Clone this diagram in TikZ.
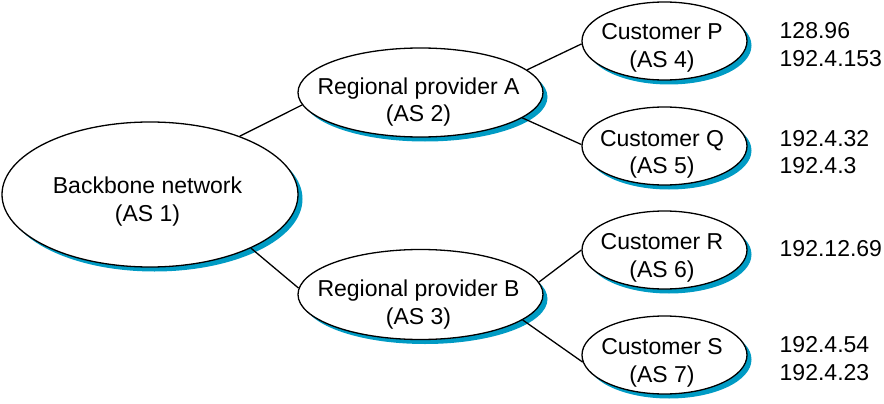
\documentclass[tikz,border=0pt]{standalone}
\usepackage{fontspec}
\setmainfont{Liberation Sans}
\usetikzlibrary{shapes.geometric,shadows}
\definecolor{shadowblue}{RGB}{0,155,196}
\tikzset{
  asnode/.style={ellipse, draw=black, line width=1.3pt, fill=white, inner sep=0pt,
    drop shadow={shadow xshift=4.5pt, shadow yshift=-4.5pt, fill=shadowblue, opacity=1}},
  lbl/.style={align=center, inner sep=0pt, font=\fontsize{23}{27.5}\selectfont},
  addr/.style={align=left, anchor=west, inner sep=0pt, font=\fontsize{23}{27.5}\selectfont},
  link/.style={draw=black, line width=1.3pt}
}
\begin{document}
\begin{tikzpicture}[x=1pt,y=-1pt]
\useasboundingbox (0,0) rectangle (884,404);
% ellipses
\node[asnode, minimum width=296pt, minimum height=145pt] (bb) at (150,194.5) {};
\node[asnode, minimum width=245pt, minimum height=89pt] (ra) at (420.5,92.5) {};
\node[asnode, minimum width=245pt, minimum height=90pt] (rb) at (420.5,294.5) {};
\node[asnode, minimum width=165pt, minimum height=78pt] (cp) at (664.5,41) {};
\node[asnode, minimum width=165pt, minimum height=78pt] (cq) at (664.5,146) {};
\node[asnode, minimum width=165pt, minimum height=78pt] (cr) at (664.5,250) {};
\node[asnode, minimum width=165pt, minimum height=78pt] (cs) at (664.5,355) {};
% labels
\node[lbl] (bbt) at (147.5,201.75) {Backbone network\\(AS 1)};
\node[lbl] (rat) at (418.5,102) {Regional provider A\\(AS 2)};
\node[lbl] (rbt) at (418.5,304.5) {Regional provider B\\(AS 3)};
\node[lbl] (cpt) at (662,47.75) {Customer P\\(AS 4)};
\node[lbl] (cqt) at (662,154.5) {Customer Q\\(AS 5)};
\node[lbl] (crt) at (662,257.75) {Customer R\\(AS 6)};
\node[lbl] (cst) at (662,362.75) {Customer S\\(AS 7)};
% addresses
\node[addr] (pa) at (779.5,44.5) {128.96\\192.4.153};
\node[addr] (qa) at (779.5,152.2) {192.4.32\\192.4.3};
\node[addr] (ra2) at (779.5,248.5) {192.12.69};
\node[addr] (sa) at (779.5,358.8) {192.4.54\\192.4.23};
% connectors
\draw[link] (bb.33) -- (ra.186);
\draw[link] (bb.332) -- (rb.177);
\draw[link] (ra.12) -- (cp.182);
\draw[link] (ra.346) -- (cq.179);
\draw[link] (rb.6) -- (cr.180);
\draw[link] (rb.346) -- (cs.185);
\end{tikzpicture}
\end{document}
